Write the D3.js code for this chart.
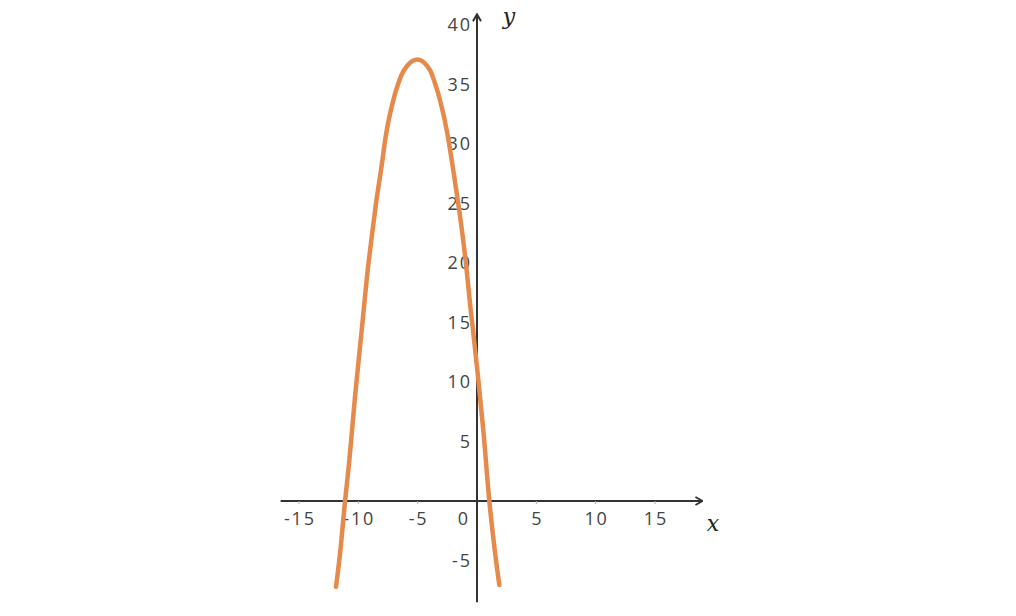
<!DOCTYPE html>
<html>
<head>
<meta charset="utf-8">
<script src="https://cdn.jsdelivr.net/npm/d3@7"></script>
<style>
  body { margin: 0; background: #fff; }
  svg text { font-family: "Open Sans", sans-serif; }
</style>
</head>
<body>
<svg id="chart" width="1016" height="616"></svg>
<script>
// points
var curve_x = [-11.88, -11.48, -11.12, -10.78, -10.28, -9.71, -9.21, -8.87, -8.51, -8.09, -7.65, -7.1, -6.63, -6.15, -5.03,
               -3.96, -3.54, -3.12, -2.5, -2.0, -1.58, -1.2, -0.87, -0.59, -0.34, 0.06, 0.53, 1.04, 1.46, 1.88];
var curve_y = [-7.2, -3.84, 0, 3.17, 8.76, 14.4, 19.4, 22.2, 25.0, 27.8, 30.9, 33.5, 35.1, 36.2, 37.1,
               36.2, 35.1, 33.7, 30.9, 27.8, 25.0, 22.2, 19.4, 16.6, 14.4, 10.7, 5.97, 0, -3.84, -7.06];
var x_ticks = [-15, -10, -5, 0, 5, 10, 15];
var y_ticks = [-5, 5, 10, 15, 20, 25, 30, 35, 40];
var x_range = [-16.55, 19.0];
var y_range = [-8.5, 40.9];

var svg = d3.select("#chart");

var x = d3.scaleLinear().domain([-15, 15]).range([299, 655]);
var y = d3.scaleLinear().domain([-5, 40]).range([560.5, 25]);

var axis_col = "#333";
var lab_col = "#444";
var ls = 1.8;

svg.append("defs").append("marker")
    .attr("id", "arrow")
    .attr("viewBox", "0 0 10 10")
    .attr("refX", 9).attr("refY", 5)
    .attr("markerWidth", 10).attr("markerHeight", 10)
    .attr("markerUnits", "userSpaceOnUse")
    .attr("orient", "auto")
    .append("path")
    .attr("d", "M2,1 L9,5 L2,9")
    .attr("fill", "none")
    .attr("stroke", axis_col)
    .attr("stroke-width", 2);

// x axis
svg.append("line")
    .attr("x1", x(x_range[0])).attr("x2", x(x_range[1]))
    .attr("y1", y(0)).attr("y2", y(0))
    .attr("stroke", axis_col).attr("stroke-width", 2)
    .attr("marker-end", "url(#arrow)");

// y axis
svg.append("line")
    .attr("x1", x(0)).attr("x2", x(0))
    .attr("y1", y(y_range[0])).attr("y2", y(y_range[1]))
    .attr("stroke", axis_col).attr("stroke-width", 2)
    .attr("marker-end", "url(#arrow)");

// small ticks under x axis
svg.selectAll(".xtick")
    .data(x_ticks.filter(function(d) { return d != 0; }))
    .enter().append("line")
    .attr("x1", function(d) { return x(d); }).attr("x2", function(d) { return x(d); })
    .attr("y1", y(0)).attr("y2", y(0) + 3)
    .attr("stroke", "#aaa").attr("stroke-width", 1);

svg.selectAll(".xlab")
    .data(x_ticks)
    .enter().append("text")
    .attr("x", function(d) { return (d == 0 ? x(d) - 14 : x(d)) + ls / 2; })
    .attr("y", y(0) + 23.5)
    .attr("text-anchor", "middle")
    .attr("font-size", 18)
    .attr("letter-spacing", ls)
    .attr("fill", lab_col)
    .text(function(d) { return d; });

svg.selectAll(".ylab")
    .data(y_ticks)
    .enter().append("text")
    .attr("x", x(0) - 7 + ls)
    .attr("y", function(d) { return y(d) + 6; })
    .attr("text-anchor", "end")
    .attr("font-size", 18)
    .attr("letter-spacing", ls)
    .attr("fill", lab_col)
    .text(function(d) { return d; });

// axis names
svg.append("text")
    .attr("x", 713).attr("y", 531)
    .attr("text-anchor", "middle")
    .attr("font-size", 22)
    .attr("font-style", "italic")
    .style("font-family", "'DejaVu Serif', serif")
    .attr("fill", "#222")
    .text("x");

svg.append("text")
    .attr("x", 509).attr("y", 24)
    .attr("text-anchor", "middle")
    .attr("font-size", 22)
    .attr("font-style", "italic")
    .style("font-family", "'DejaVu Serif', serif")
    .attr("fill", "#222")
    .text("y");

// curve
var pts = curve_x.map(function(d, i) { return [d, curve_y[i]]; });
var line = d3.line()
    .x(function(d) { return x(d[0]); })
    .y(function(d) { return y(d[1]); })
    .curve(d3.curveMonotoneX);

svg.append("path")
    .datum(pts)
    .attr("d", line)
    .attr("fill", "none")
    .attr("stroke", "#E58A4A")
    .attr("stroke-width", 4.5)
    .attr("stroke-linecap", "round");
</script>
</body>
</html>
